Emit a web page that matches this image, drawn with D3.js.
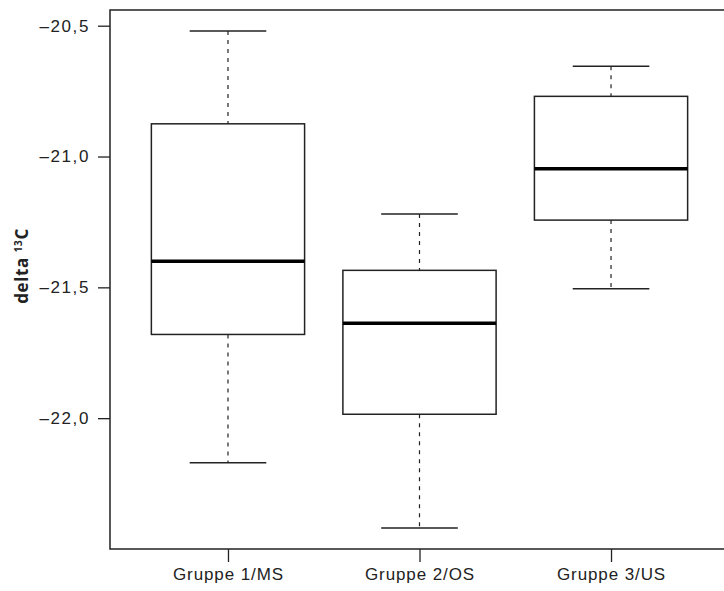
<!DOCTYPE html>
<html>
<head>
<meta charset="utf-8">
<script src="https://cdn.jsdelivr.net/npm/d3@7"></script>
<style>
  html, body { margin: 0; padding: 0; background: #fff; }
  svg { display: block; font-family: "Open Sans", "Noto Sans", sans-serif; }
</style>
</head>
<body>
<div id="chart"></div>
<script>
// Data
const groups = ["Gruppe 1/MS", "Gruppe 2/OS", "Gruppe 3/US"];
const whiskerHigh = [-20.52, -21.22, -20.655];
const q3 = [-20.875, -21.435, -20.77];
const median = [-21.40, -21.637, -21.047];
const q1 = [-21.68, -21.985, -21.243];
const whiskerLow = [-22.17, -22.42, -21.505];
const yTicks = [-20.5, -21.0, -21.5, -22.0];

// Configuration
const W = 724, H = 591;
const plot = {left: 110, top: 10, right: 729, bottom: 549};

const svg = d3.select("#chart")
    .append("svg")
    .attr("width", W)
    .attr("height", H);

const x = d3.scalePoint()
    .domain(groups)
    .range([plot.left, plot.right])
    .padding(0.616);

const y = d3.scaleLinear()
    .domain([-22.5, -20.44])
    .range([plot.bottom, plot.top]);

const boxW = x.step() * 0.8;
const capW = boxW / 2;
const ink = "#222";

const fmt = d => d.toFixed(1).replace(".", ",").replace("-", "\u2013");

// Frame
svg.append("rect")
    .attr("x", plot.left)
    .attr("y", plot.top)
    .attr("width", plot.right - plot.left)
    .attr("height", plot.bottom - plot.top)
    .attr("fill", "none")
    .attr("stroke", ink)
    .attr("stroke-width", 1.5);

// Y axis
const yAxis = svg.append("g")
    .attr("transform", `translate(${plot.left},0)`)
    .call(d3.axisLeft(y).tickValues(yTicks).tickFormat(fmt).tickSize(12).tickPadding(8));
yAxis.select(".domain").remove();
yAxis.selectAll("line").attr("stroke", ink).attr("stroke-width", 1.3);
yAxis.selectAll("text")
    .attr("fill", ink)
    .style("font-size", "17px")
    .style("letter-spacing", "1.6px");

// X axis
const xAxis = svg.append("g")
    .attr("transform", `translate(0,${plot.bottom})`)
    .call(d3.axisBottom(x).tickSize(13).tickPadding(6));
xAxis.select(".domain").remove();
xAxis.selectAll("line").attr("stroke", ink).attr("stroke-width", 1.3);
xAxis.selectAll("text")
    .attr("fill", ink)
    .style("font-size", "17px")
    .style("letter-spacing", "0.9px");

// Y label
const yLabel = svg.append("text")
    .attr("transform", `translate(28,266) rotate(-90)`)
    .attr("text-anchor", "middle")
    .attr("fill", ink)
    .style("font-size", "17px")
    .style("font-weight", "bold")
    .style("letter-spacing", "0.6px");
yLabel.append("tspan").text("delta ");
yLabel.append("tspan").attr("dy", "-6").style("font-size", "10px").text("13");
yLabel.append("tspan").attr("dy", "6").text("C");

// Boxes
const box = svg.selectAll(".box")
    .data(groups)
    .enter()
    .append("g")
    .attr("class", "box");

// whiskers
box.append("line")
    .attr("x1", d => x(d)).attr("x2", d => x(d))
    .attr("y1", (d, i) => y(whiskerHigh[i]))
    .attr("y2", (d, i) => y(q3[i]))
    .attr("stroke", ink).attr("stroke-width", 1.2)
    .attr("stroke-dasharray", "4,5");
box.append("line")
    .attr("x1", d => x(d)).attr("x2", d => x(d))
    .attr("y1", (d, i) => y(q1[i]))
    .attr("y2", (d, i) => y(whiskerLow[i]))
    .attr("stroke", ink).attr("stroke-width", 1.2)
    .attr("stroke-dasharray", "4,5");

// caps
[whiskerHigh, whiskerLow].forEach(arr => {
    box.append("line")
        .attr("x1", d => x(d) - capW / 2).attr("x2", d => x(d) + capW / 2)
        .attr("y1", (d, i) => y(arr[i])).attr("y2", (d, i) => y(arr[i]))
        .attr("stroke", ink).attr("stroke-width", 1.5);
});

// box
box.append("rect")
    .attr("x", d => x(d) - boxW / 2)
    .attr("y", (d, i) => y(q3[i]))
    .attr("width", boxW)
    .attr("height", (d, i) => y(q1[i]) - y(q3[i]))
    .attr("fill", "none")
    .attr("stroke", ink)
    .attr("stroke-width", 1.5);

// median
box.append("line")
    .attr("x1", d => x(d) - boxW / 2).attr("x2", d => x(d) + boxW / 2)
    .attr("y1", (d, i) => y(median[i])).attr("y2", (d, i) => y(median[i]))
    .attr("stroke", "#000").attr("stroke-width", 3.5);
</script>
</body>
</html>
